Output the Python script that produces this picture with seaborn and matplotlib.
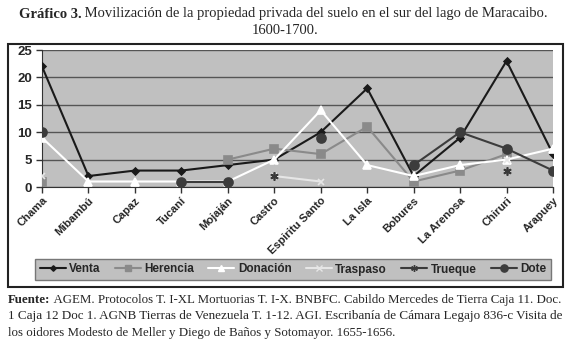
import numpy as np
import pandas as pd
import matplotlib
matplotlib.use("Agg")
import matplotlib.pyplot as plt
import seaborn as sns
from matplotlib.patches import Rectangle

### Datos
lugares = ["Chama", "Mibambú", "Capaz", "Tucaní", "Mojaján", "Castro",
           "Espiritu Santo", "La Isla", "Bobures", "La Arenosa", "Chiruri", "Arapuey"]
nan = np.nan
venta = [22, 2, 3, 3, 4, 5, 10, 18, 2, 9, 23, 6]
herencia = [1, nan, nan, nan, 5, 7, 6, 11, 1, 3, 6, nan]
donacion = [9, 1, 1, 1, 1, 5, 14, 4, 2, 4, 5, 7]
traspaso = [2, nan, nan, nan, nan, 2, 1, nan, nan, nan, 5, nan]
trueque = [nan, nan, nan, nan, nan, 2, nan, nan, nan, nan, 3, nan]
dote = [10, nan, nan, 1, 1, nan, 9, nan, 4, 10, 7, 3]

series = {"Venta": venta, "Herencia": herencia, "Donación": donacion,
          "Traspaso": traspaso, "Trueque": trueque, "Dote": dote}
colores = {"Venta": "#1a1a1a", "Herencia": "#8a8a8a", "Donación": "#ffffff",
           "Traspaso": "#e6e6e6", "Trueque": "#3a3a3a", "Dote": "#3c3c3c"}
marcas = {"Venta": "D", "Herencia": "s", "Donación": "^",
          "Traspaso": "x", "Trueque": (6, 2, 0), "Dote": "o"}
tamanhos = {"Venta": 3.5, "Herencia": 6, "Donación": 6,
            "Traspaso": 5, "Trueque": 6, "Dote": 6.5}

sns.set_style("white")
plt.rcParams["font.family"] = ["Liberation Sans", "DejaVu Sans"]

fig = plt.figure(figsize=(5.7, 3.47), dpi=100)
ax = fig.add_axes([42 / 570, 1 - 187 / 347, 511 / 570, 137 / 347])
ax.set_facecolor("#c0c0c0")

x = np.arange(len(lugares))
for nome, valores in series.items():
    v = np.array(valores, dtype=float)
    # dividir em trechos contínuos para manter as lacunas
    grupos = np.cumsum(np.isnan(v))
    df = pd.DataFrame({"x": x, "y": v, "g": grupos}).dropna()
    for i, (_, trecho) in enumerate(df.groupby("g")):
        sns.lineplot(data=trecho, x="x", y="y", ax=ax, color=colores[nome],
                     marker=marcas[nome], markersize=tamanhos[nome],
                     markeredgecolor=colores[nome], markeredgewidth=1.2,
                     linewidth=1.5, legend=False, zorder=3)

ax.set_xlim(0, 11)
ax.set_ylim(0, 25)
ax.set_yticks([0, 5, 10, 15, 20, 25])
ax.yaxis.grid(True, color="#555555", linewidth=1)
ax.set_axisbelow(True)
ax.set_xticks(x)
ax.set_xticklabels(lugares, rotation=45, ha="right", rotation_mode="anchor",
                   fontsize=8, fontweight="bold")
for t in ax.get_yticklabels():
    t.set_fontweight("bold")
    t.set_fontsize(9.5)
ax.tick_params(axis="x", length=4, width=1, color="#333333", pad=2, direction="out", bottom=True)
ax.tick_params(axis="y", length=4, width=1, color="#333333", pad=3, direction="out", left=True)
ax.set_xlabel("")
ax.set_ylabel("")
for lado in ["top", "right"]:
    ax.spines[lado].set_visible(False)
ax.spines["left"].set_color("#333333")
ax.spines["bottom"].set_color("#333333")

# leyenda
alcas = [plt.Line2D([], [], color=colores[n], marker=marcas[n], markersize=tamanhos[n] * 0.8,
                    markeredgecolor=colores[n], linewidth=1.5) for n in series]
leg = fig.legend(alcas, list(series.keys()), loc="center", ncol=6, mode="expand",
                 bbox_to_anchor=(35 / 570, 1 - 282 / 347, 516 / 570, 25 / 347),
                 frameon=True, fancybox=False, handlelength=2.2, handletextpad=0.3,
                 prop={"weight": "bold", "size": 8.5}, borderaxespad=0)
leg.get_frame().set_facecolor("#c0c0c0")
leg.get_frame().set_edgecolor("#777777")
leg.get_frame().set_alpha(1)

# marco exterior
fig.patches.append(Rectangle((8 / 570, 1 - 287 / 347), 555 / 570, 243 / 347,
                             transform=fig.transFigure, fill=False,
                             edgecolor="#222222", linewidth=1.5))

# textos con partes en negrita
serif = ["Liberation Serif", "DejaVu Serif"]
fig.canvas.draw()
rend = fig.canvas.get_renderer()

def linea(partes, y, tam, x0=None, centro=None, ancho=None):
    objs = [fig.text(0, y, s, fontsize=tam, family=serif, fontweight=w, va="center")
            for s, w in partes]
    anchos = [o.get_window_extent(rend).width for o in objs]
    if ancho is not None:
        f = ancho / sum(anchos)
        for o in objs:
            o.set_fontsize(tam * f)
        anchos = [a * f for a in anchos]
    total = sum(anchos)
    xpx = x0 if x0 is not None else centro - total / 2
    for o, a in zip(objs, anchos):
        o.set_x(xpx / 570)
        xpx += a
    return objs[0].get_fontsize()

tam_t = linea([("Gráfico 3.", "bold"),
               (" Movilización de la propiedad privada del suelo en el sur del lago de Maracaibo.", "normal")],
              1 - 14 / 347, 11, centro=285, ancho=532)
linea([("1600-1700.", "normal")], 1 - 30 / 347, tam_t, centro=285)
tam_f = linea([("Fuente:", "bold"),
               (" AGEM. Protocolos T. I-XL Mortuorias T. I-X. BNBFC. Cabildo Mercedes de Tierra Caja 11. Doc.", "normal")],
              1 - 300 / 347, 10, x0=8, ancho=554)
linea([("1 Caja 12 Doc 1. AGNB Tierras de Venezuela T. 1-12. AGI. Escribanía de Cámara Legajo 836-c Visita de", "normal")],
      1 - 316 / 347, 10, x0=8, ancho=554)
linea([("los oidores Modesto de Meller y Diego de Baños y Sotomayor. 1655-1656.", "normal")],
      1 - 333 / 347, tam_f, x0=8)

fig.savefig("out.png", dpi=100)
